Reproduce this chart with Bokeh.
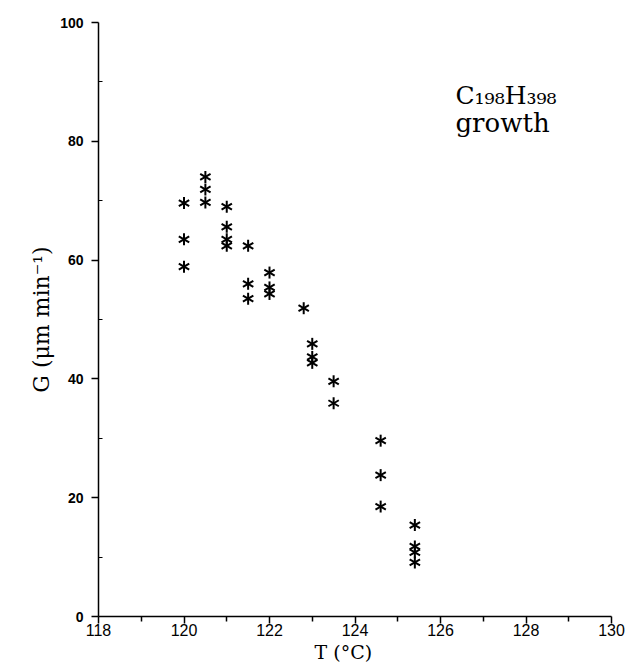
import math
from bokeh.plotting import figure
from bokeh.models import Range1d, FixedTicker, Label, Title
from bokeh.embed import file_html
from bokeh.resources import INLINE

# Data (T in °C, G in µm/min)
temperature_c = [120.0, 120.0, 120.0,
                 120.5, 120.5, 120.5,
                 121.0, 121.0, 121.0, 121.0,
                 121.5, 121.5, 121.5,
                 122.0, 122.0, 122.0,
                 122.8,
                 123.0, 123.0, 123.0,
                 123.5, 123.5,
                 124.6, 124.6, 124.6,
                 125.4, 125.4, 125.4, 125.4]
growth_rate = [69.6, 63.5, 58.9,
               74.0, 71.9, 69.7,
               69.0, 65.6, 63.5, 62.4,
               62.4, 56.0, 53.5,
               57.9, 55.4, 54.3,
               51.9,
               45.9, 43.7, 42.7,
               39.6, 35.9,
               29.6, 23.8, 18.5,
               15.4, 11.8, 10.8, 9.1]

x_major_ticks = [118, 120, 122, 124, 126, 128, 130]
x_minor_ticks = [119, 121, 123, 125, 127, 129]
y_major_ticks = [0, 20, 40, 60, 80, 100]
y_minor_ticks = [10, 30, 50, 70, 90]

p = figure(width=631, height=662, output_backend="svg", toolbar_location=None,
           x_range=Range1d(118, 130), y_range=Range1d(0, 100),
           min_border_left=98, min_border_right=20,
           min_border_top=22, min_border_bottom=44)
p.outline_line_color = None
p.grid.visible = False
p.background_fill_color = "white"

xa = p.xaxis[0]
xa.ticker = FixedTicker(ticks=x_major_ticks, minor_ticks=x_minor_ticks)
xa.axis_line_color = "black"
xa.axis_line_width = 1.5
xa.major_tick_line_color = "black"
xa.major_tick_line_width = 1.5
xa.major_tick_out = 7
xa.major_tick_in = 0
xa.minor_tick_line_color = "black"
xa.minor_tick_line_width = 1.5
xa.minor_tick_out = 5
xa.minor_tick_in = 0
xa.major_label_standoff = 0
xa.major_label_text_font = "Liberation Sans"
xa.major_label_text_font_size = "16px"
xa.major_label_text_color = "black"

ya = p.yaxis[0]
ya.ticker = FixedTicker(ticks=y_major_ticks, minor_ticks=y_minor_ticks)
ya.axis_line_color = "black"
ya.axis_line_width = 1.5
ya.major_tick_line_color = "black"
ya.major_tick_line_width = 1.5
ya.major_tick_out = 7
ya.major_tick_in = 0
ya.minor_tick_line_color = "black"
ya.minor_tick_line_width = 1
ya.minor_tick_out = 0
ya.minor_tick_in = 4
ya.major_label_standoff = 8
ya.major_label_text_font = "Liberation Sans"
ya.major_label_text_font_style = "bold"
ya.major_label_text_font_size = "14px"
ya.major_label_text_color = "black"

# six-armed asterisk markers
for ang in (math.pi / 2, math.pi / 6, -math.pi / 6):
    p.scatter(temperature_c, growth_rate, marker="dash", size=12, angle=ang,
              line_color="black", line_width=2)

serif = "DejaVu Serif"
p.add_layout(Title(text="T (°C)", align="left", offset=216, standoff=0,
                   text_font=serif, text_font_size="19px",
                   text_font_style="normal", text_color="black"), "below")
p.add_layout(Title(text="G (μm min⁻¹)", align="center", offset=-14, standoff=7,
                   text_font=serif, text_font_size="22px",
                   text_font_style="normal", text_color="black"), "left")

p.add_layout(Label(x=126.35, y=87.7, text="C₁₉₈H₃₉₈", text_font=serif,
                   text_font_size="25px", text_align="left",
                   text_baseline="alphabetic", text_color="black"))
p.add_layout(Label(x=126.35, y=83.0, text="growth", text_font=serif,
                   text_font_size="26px", text_align="left",
                   text_baseline="alphabetic", text_color="black"))

open("out.html", "w").write(file_html(p, INLINE))
